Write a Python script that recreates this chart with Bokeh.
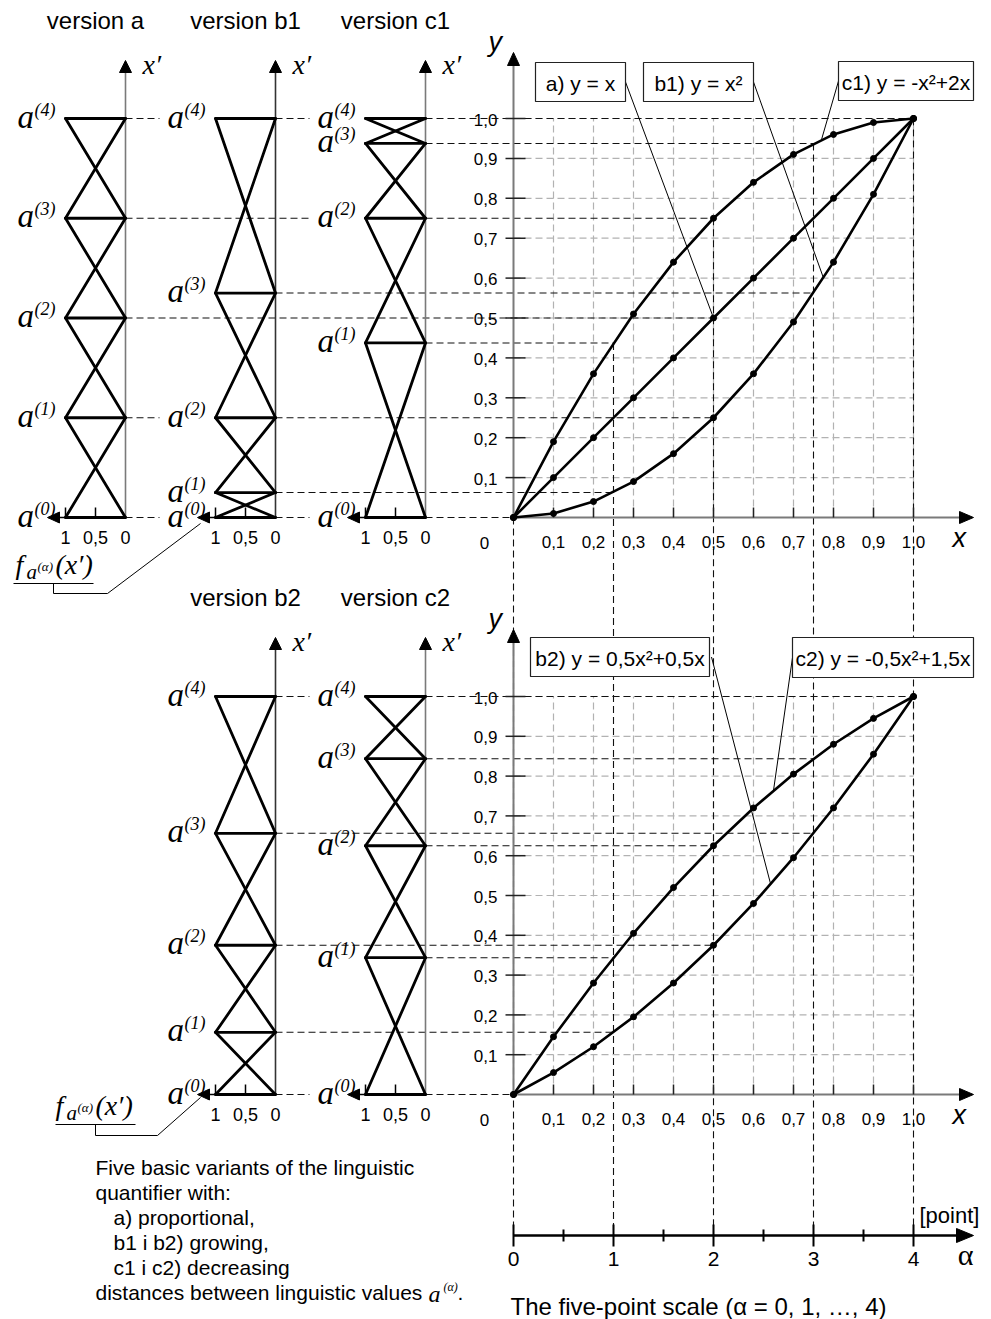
from bokeh.plotting import figure
from bokeh.models import Range1d
from bokeh.core.properties import value
from bokeh.embed import file_html
from bokeh.resources import INLINE

# ---------------- data ----------------
x_pts = [0.0, 0.1, 0.2, 0.3, 0.4, 0.5, 0.6, 0.7, 0.8, 0.9, 1.0]
y_a = [0.0, 0.1, 0.2, 0.3, 0.4, 0.5, 0.6, 0.7, 0.8, 0.9, 1.0]
y_b1 = [0.0, 0.01, 0.04, 0.09, 0.16, 0.25, 0.36, 0.49, 0.64, 0.81, 1.0]
y_c1 = [0.0, 0.19, 0.36, 0.51, 0.64, 0.75, 0.84, 0.91, 0.96, 0.99, 1.0]
y_b2 = [0.0, 0.055, 0.12, 0.195, 0.28, 0.375, 0.48, 0.595, 0.72, 0.855, 1.0]
y_c2 = [0.0, 0.145, 0.28, 0.405, 0.52, 0.625, 0.72, 0.805, 0.88, 0.945, 1.0]

alpha = [0, 1, 2, 3, 4]
alpha_minor = [0.5, 1.5, 2.5, 3.5]
x_alpha = [0.0, 0.25, 0.5, 0.75, 1.0]
lev_a = [0.0, 0.25, 0.5, 0.75, 1.0]
lev_b1 = [0.0, 0.0625, 0.25, 0.5625, 1.0]
lev_c1 = [0.0, 0.4375, 0.75, 0.9375, 1.0]
lev_b2 = [0.0, 0.15625, 0.375, 0.65625, 1.0]
lev_c2 = [0.0, 0.34375, 0.625, 0.84375, 1.0]

tick_vals = [0.1, 0.2, 0.3, 0.4, 0.5, 0.6, 0.7, 0.8, 0.9, 1.0]
tick_labels = ["0,1", "0,2", "0,3", "0,4", "0,5", "0,6", "0,7", "0,8", "0,9", "1,0"]
mem_vals = [1.0, 0.5, 0.0]
mem_labels = ["1", "0,5", "0"]

# leader anchors on the curves (x, y)
lead_a = (0.5, 0.5)
lead_b1 = (0.775, 0.60)
lead_c1 = (0.77, 0.947)
lead_b2 = (0.643, 0.528)
lead_c2 = (0.65, 0.764)

# ---------------- layout (page pixels) ----------------
PW, PH = 991, 1319
L_PX, R_PX, T_PX, B_PX = 0, PW, 0, PH
X0, XS = 513, 400
Y0T, YST = 517, 399
Y0B, YSB = 1094, 398
DW = 60
AY, AS = 1235, 100


def cx(x):
    return X0 + XS * x


def ty(y):
    return Y0T - YST * y


def by(y):
    return Y0B - YSB * y


YMAP = {"t": ty, "b": by}

p = figure(width=PW, height=PH, x_range=Range1d(L_PX, R_PX), y_range=Range1d(B_PX, T_PX),
           output_backend="svg", toolbar_location=None, min_border=0,
           x_axis_location=None, y_axis_location=None, outline_line_color=None,
           background_fill_color="white", border_fill_color="white")
p.xgrid.visible = False
p.ygrid.visible = False

diags = [
    dict(name="a", title="version a", lev=lev_a, X=125, sec="t", axc="#7a7a7a"),
    dict(name="b1", title="version b1", lev=lev_b1, X=275, sec="t", axc="#333333"),
    dict(name="c1", title="version c1", lev=lev_c1, X=425, sec="t", axc="#7a7a7a"),
    dict(name="b2", title="version b2", lev=lev_b2, X=275, sec="b", axc="#333333"),
    dict(name="c2", title="version c2", lev=lev_c2, X=425, sec="b", axc="#7a7a7a"),
]

xr = {"chart": Range1d((L_PX - X0) / XS, (R_PX - X0) / XS)}
for d in diags:
    xr["m_" + d["name"]] = Range1d((d["X"] - L_PX) / DW, (d["X"] - R_PX) / DW)
p.extra_x_ranges = xr
p.extra_y_ranges = {"t": Range1d((Y0T - B_PX) / YST, (Y0T - T_PX) / YST),
                    "b": Range1d((Y0B - B_PX) / YSB, (Y0B - T_PX) / YSB)}


def label(xs, ys, texts, size, font="Liberation Sans", style="normal", align="left",
          color="black"):
    p.text(x=list(xs), y=list(ys), text=list(texts), text_font=value(font),
           text_font_size=f"{size}px", text_font_style=style, text_align=align,
           text_baseline="middle", text_color=color)


# ---------------- chart grids ----------------
for sec in ("t", "b"):
    p.multi_line(xs=[[v, v] for v in tick_vals], ys=[[0, 1] for v in tick_vals],
                 x_range_name="chart", y_range_name=sec, line_color="#b2b2b2",
                 line_dash="7 4", line_width=1.2)
    p.multi_line(xs=[[0, 1] for v in tick_vals], ys=[[v, v] for v in tick_vals],
                 x_range_name="chart", y_range_name=sec, line_color="#b2b2b2",
                 line_dash="7 4", line_width=1.2)

# ---------------- level lines (black dashed) ----------------
lx, ly = [], []
for sec in ("t", "b"):
    ds = [d for d in diags if d["sec"] == sec]
    vals = sorted(set(v for d in ds for v in d["lev"]))
    for v in vals:
        owners = [d for d in ds if v in d["lev"]]
        start = owners[0]["X"]
        end = cx(x_alpha[owners[-1]["lev"].index(v)])
        yy = YMAP[sec](v)
        pos = start
        for d in owners[1:]:
            lx.append([pos, d["X"] - 116]); ly.append([yy, yy])
            pos = d["X"]
        lx.append([pos, end]); ly.append([yy, yy])
p.multi_line(xs=lx, ys=ly, line_color="#111111", line_dash="7 4", line_width=1.1)

# vertical dashed lines down to the alpha scale
top_lev = [max(a, b, c) for a, b, c in zip(lev_a, lev_b1, lev_c1)]
p.multi_line(xs=[[cx(x), cx(x)] for x in x_alpha], ys=[[ty(v), AY] for v in top_lev],
             line_color="#111111", line_dash="7 4", line_width=1.1)

# ---------------- chart axes ----------------
AXC = "#7a7a7a"
for sec, y0, tip in (("t", Y0T, 52), ("b", Y0B, 629)):
    ymap = YMAP[sec]
    p.segment(x0=[X0], y0=[y0], x1=[X0], y1=[tip + 12], line_color=AXC, line_width=2)
    p.patch(x=[X0, X0 - 6, X0 + 6], y=[tip, tip + 13, tip + 13], color="black")
    p.segment(x0=[X0], y0=[y0], x1=[960], y1=[y0], line_color=AXC, line_width=2)
    p.patch(x=[973, 959, 959], y=[y0, y0 - 6, y0 + 6], color="black")
    p.segment(x0=[cx(v) for v in tick_vals], y0=[y0] * 10, x1=[cx(v) for v in tick_vals],
              y1=[y0 - 10] * 10, line_color="#222222", line_width=1.5)
    p.segment(x0=[X0 - 8] * 10, y0=[ymap(v) for v in tick_vals], x1=[X0 + 12] * 10,
              y1=[ymap(v) for v in tick_vals], line_color="#222222", line_width=1.5)
    label([cx(v) for v in tick_vals], [y0 + 24] * 10, tick_labels, 17, align="center")
    label([497] * 10, [ymap(v) + 1 for v in tick_vals], tick_labels, 17, align="right")
    label([484], [y0 + 25], ["0"], 17, align="center")
    label([488], [tip - 11], ["y"], 27, style="italic")
    label([952], [y0 + 20], ["x"], 27, style="italic")

# ---------------- curves ----------------
for sec, ys in (("t", y_a), ("t", y_b1), ("t", y_c1), ("b", y_b2), ("b", y_c2)):
    p.line(x_pts, ys, x_range_name="chart", y_range_name=sec, line_color="black",
           line_width=2.6, line_join="round")
    p.scatter(x_pts, ys, x_range_name="chart", y_range_name=sec, size=6, color="black")

# ---------------- callout boxes ----------------
boxes = [
    ("a) y = x", 535, 625, 62, 101, "t", lead_a, 625),
    ("b1) y = x²", 643, 753, 62, 101, "t", lead_b1, 753),
    ("c1) y = -x²+2x", 838, 973, 61, 100, "t", lead_c1, 838),
    ("b2) y = 0,5x²+0,5x", 530, 709, 637, 676, "b", lead_b2, 711),
    ("c2) y = -0,5x²+1,5x", 792, 973, 637, 677, "b", lead_c2, 792),
]
for txt, l, r, t, b, sec, (lxv, lyv), ex in boxes:
    p.segment(x0=[ex], y0=[(t + b) / 2], x1=[cx(lxv)], y1=[YMAP[sec](lyv)],
              line_color="black", line_width=1)
    p.quad(left=[l], right=[r], top=[t], bottom=[b], fill_color="white",
           line_color="#222222", line_width=1.2)
    label([(l + r) / 2], [(t + b) / 2 + 1], [txt], 21, align="center")

# ---------------- membership-function diagrams ----------------
for d in diags:
    X, sec, lev = d["X"], d["sec"], d["lev"]
    ymap = YMAP[sec]
    y0 = ymap(0.0)
    tip = 60 if sec == "t" else 637
    # x' axis
    p.segment(x0=[X], y0=[y0], x1=[X], y1=[tip + 11], line_color=d["axc"], line_width=1.6)
    p.patch(x=[X, X - 6, X + 6], y=[tip, tip + 12, tip + 12], color="black")
    # membership axis with arrow to the left
    p.segment(x0=[X], y0=[y0], x1=[X - 67], y1=[y0], line_color="black", line_width=1.6)
    p.patch(x=[X - 78, X - 66, X - 66], y=[y0, y0 - 5.5, y0 + 5.5], color="black")
    p.segment(x0=[X - DW * v for v in mem_vals[:2]], y0=[y0] * 2,
              x1=[X - DW * v for v in mem_vals[:2]], y1=[y0 - 10] * 2,
              line_color="black", line_width=1.5)
    label([X - DW * v for v in mem_vals], [y0 + 20] * 3, mem_labels, 18, align="center")
    # triangular functions
    xs = [[1, 0] for v in lev]
    ys = [[v, v] for v in lev]
    for k in range(len(lev) - 1):
        xs += [[1, 0], [0, 1]]
        ys += [[lev[k], lev[k + 1]], [lev[k], lev[k + 1]]]
    p.multi_line(xs=xs, ys=ys, x_range_name="m_" + d["name"], y_range_name=sec,
                 line_color="black", line_width=2.8, line_cap="round", line_join="round")
    # a^(k) labels
    label([X - 108] * 5, [ymap(v) - 2 for v in lev], ["a"] * 5, 33,
          font="Liberation Serif", style="italic")
    label([X - 91] * 5, [ymap(v) - 9 for v in lev], [f"({k})" for k in range(5)], 18,
          font="Liberation Serif", style="italic")
    label([X + 17], [tip + 4], ["x′"], 28, font="Liberation Serif", style="italic")
    label([X - 30], [20 if sec == "t" else 597], [d["title"]], 24, align="center")

# ---------------- f_a(x') pointer labels ----------------
for dx, dy in ((0, 0), (40, 541)):
    label([15 + dx], [564 + dy], ["f"], 28, font="Liberation Serif", style="italic")
    label([26 + dx], [571 + dy], ["a"], 21, font="Liberation Serif", style="italic")
    label([37 + dx], [566 + dy], ["(α)"], 13, font="Liberation Serif", style="italic")
    label([55 + dx], [564 + dy], ["(x′)"], 28, font="Liberation Serif", style="italic")
p.multi_line(xs=[[13, 93], [53, 53, 107, 200]], ys=[[583, 583], [583, 593, 593, 523]],
             line_color="black", line_width=1)
p.multi_line(xs=[[55, 135], [95, 95, 157, 200]], ys=[[1124, 1124], [1124, 1135, 1135, 1097]],
             line_color="black", line_width=1)

# ---------------- alpha scale ----------------
p.segment(x0=[X0], y0=[AY], x1=[958], y1=[AY], line_color="black", line_width=2.6)
p.patch(x=[973, 956, 956], y=[AY, AY - 7, AY + 7], color="black")
p.segment(x0=[X0 + AS * a for a in alpha], y0=[AY - 11] * 5, x1=[X0 + AS * a for a in alpha],
          y1=[AY + 11] * 5, line_color="black", line_width=2)
p.segment(x0=[X0 + AS * a for a in alpha_minor], y0=[AY - 6] * 4,
          x1=[X0 + AS * a for a in alpha_minor], y1=[AY + 6] * 4, line_color="black",
          line_width=2)
label([X0 + AS * a for a in alpha], [AY + 23] * 5, [str(a) for a in alpha], 21,
      align="center")
label([919], [1215], ["[point]"], 22)
label([965], [1254], ["α"], 30, font="Liberation Serif", align="center")
label([510], [1306], ["The five-point scale (α = 0, 1, …, 4)"], 24)

# ---------------- description ----------------
desc = ["Five basic variants of the linguistic", "quantifier with:", "a) proportional,",
        "b1 i b2) growing,", "c1 i c2) decreasing", "distances between linguistic values"]
label([95, 95, 113, 113, 113, 95], [1167, 1192, 1217, 1242, 1267, 1292], desc, 21)
label([428], [1293], ["a"], 24, font="Liberation Serif", style="italic")
label([443], [1286], ["(α)"], 12, font="Liberation Serif", style="italic")
label([457], [1292], ["."], 21)

open("out.html", "w").write(file_html(p, INLINE))
